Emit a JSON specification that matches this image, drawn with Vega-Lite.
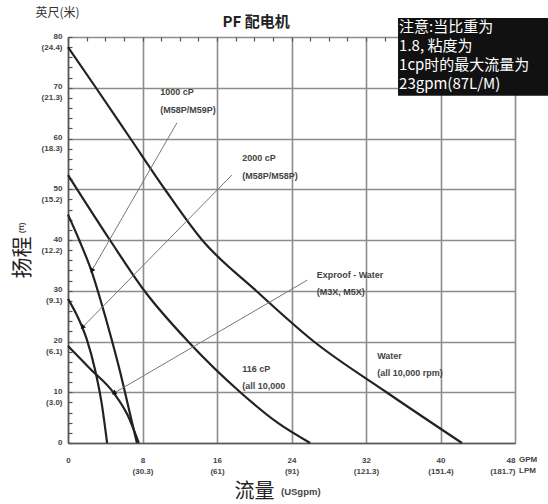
{
  "$schema": "https://vega.github.io/schema/vega-lite/v6.json",
  "width": 447,
  "height": 406,
  "autosize": "none",
  "padding": {"left": 68, "top": 37, "right": 33, "bottom": 61},
  "background": "white",
  "config": {"view": {"stroke": null}},
  "datasets": {
    "curves": [
      {"series": "Water", "gpm": 0, "ft": 78},
      {"series": "Water", "gpm": 3.0, "ft": 70},
      {"series": "Water", "gpm": 6.7, "ft": 60},
      {"series": "Water", "gpm": 10.4, "ft": 50},
      {"series": "Water", "gpm": 14.4, "ft": 40},
      {"series": "Water", "gpm": 20.2, "ft": 30},
      {"series": "Water", "gpm": 26.4, "ft": 20},
      {"series": "Water", "gpm": 34.2, "ft": 10},
      {"series": "Water", "gpm": 42.3, "ft": 0},
      {"series": "116 cP", "gpm": 0, "ft": 52.8},
      {"series": "116 cP", "gpm": 4.5, "ft": 40},
      {"series": "116 cP", "gpm": 8.2, "ft": 30},
      {"series": "116 cP", "gpm": 12.9, "ft": 20},
      {"series": "116 cP", "gpm": 18.5, "ft": 10},
      {"series": "116 cP", "gpm": 22.5, "ft": 4},
      {"series": "116 cP", "gpm": 26.0, "ft": 0},
      {"series": "1000 cP", "gpm": 0, "ft": 45},
      {"series": "1000 cP", "gpm": 1.2, "ft": 40},
      {"series": "1000 cP", "gpm": 2.5, "ft": 34},
      {"series": "1000 cP", "gpm": 3.6, "ft": 27.5},
      {"series": "1000 cP", "gpm": 4.6, "ft": 21},
      {"series": "1000 cP", "gpm": 5.6, "ft": 14},
      {"series": "1000 cP", "gpm": 6.5, "ft": 7},
      {"series": "1000 cP", "gpm": 7.4, "ft": 0},
      {"series": "2000 cP", "gpm": 0, "ft": 28.4},
      {"series": "2000 cP", "gpm": 1.0, "ft": 25},
      {"series": "2000 cP", "gpm": 2.0, "ft": 20.5},
      {"series": "2000 cP", "gpm": 2.9, "ft": 14.5},
      {"series": "2000 cP", "gpm": 3.6, "ft": 8},
      {"series": "2000 cP", "gpm": 4.2, "ft": 0},
      {"series": "Exproof", "gpm": 0, "ft": 19.1},
      {"series": "Exproof", "gpm": 2.4, "ft": 14.6},
      {"series": "Exproof", "gpm": 4.9, "ft": 9.9},
      {"series": "Exproof", "gpm": 6.4, "ft": 5.5},
      {"series": "Exproof", "gpm": 7.6, "ft": 0}
    ],
    "leaders": [
      {"leader": "1000 cP", "gpm": 11.7, "ft": 63.1},
      {"leader": "1000 cP", "gpm": 2.6, "ft": 34.1},
      {"leader": "2000 cP", "gpm": 17.6, "ft": 52.8},
      {"leader": "2000 cP", "gpm": 1.6, "ft": 22.9},
      {"leader": "Exproof", "gpm": 25.7, "ft": 32.1},
      {"leader": "Exproof", "gpm": 5.0, "ft": 9.9}
    ],
    "labels": [
      {"text": "1000 cP", "gpm": 9.9, "ft": 69.2},
      {"text": "(M58P/M59P)", "gpm": 9.9, "ft": 65.6},
      {"text": "2000 cP", "gpm": 18.7, "ft": 56.1},
      {"text": "(M58P/M58P)", "gpm": 18.7, "ft": 52.6},
      {"text": "Exproof - Water", "gpm": 26.7, "ft": 33.1},
      {"text": "(M3X, M5X)", "gpm": 26.7, "ft": 29.7},
      {"text": "Water", "gpm": 33.2, "ft": 17.1},
      {"text": "(all 10,000 rpm)", "gpm": 33.2, "ft": 13.8},
      {"text": "116 cP", "gpm": 18.7, "ft": 14.6},
      {"text": "(all 10,000", "gpm": 18.7, "ft": 11.2}
    ]
  },
  "resolve": {"axis": {"x": "independent", "y": "independent"}},
  "layer": [
    {
      "data": {"name": "curves"},
      "mark": {"type": "line", "interpolate": "monotone", "stroke": "#222", "strokeWidth": 2.2},
      "encoding": {
        "detail": {"field": "series"},
        "x": {"field": "gpm", "type": "quantitative", "scale": {"domain": [0, 48], "nice": false, "zero": false},
          "axis": {"values": [0, 8, 16, 24, 32, 40, 48], "grid": true, "gridColor": "#8c8c8c", "gridWidth": 1.6, "ticks": false,
            "domainColor": "#555", "domainWidth": 1.5, "labelFont": "Liberation Sans", "labelFontSize": 8, "labelFontWeight": "bold",
            "labelColor": "#444", "labelBaseline": "top", "labelPadding": 13, "labelLineHeight": 11, "labelFlush": false, "labelOverlap": false,
            "labelAlign": {"condition": {"test": "datum.value == 48", "value": "right"}, "value": "center"},
            "labelExpr": "datum.value == 0 ? '0' : [datum.label, datum.value == 8 ? '(30.3)' : datum.value == 16 ? '(61)' : datum.value == 24 ? '(91)' : datum.value == 32 ? '(121.3)' : datum.value == 40 ? '(151.4)' : '(181.7)']",
            "title": "流量", "titleFont": "Noto Sans CJK SC", "titleFontSize": 20, "titleFontWeight": "normal", "titleColor": "#222",
            "titleX": 186, "titleY": 54, "titleAlign": "center", "titleBaseline": "alphabetic"}},
        "y": {"field": "ft", "type": "quantitative", "scale": {"domain": [0, 80], "nice": false, "zero": false},
          "axis": {"values": [0, 10, 20, 30, 40, 50, 60, 70, 80], "grid": true, "gridColor": "#8c8c8c", "gridWidth": 1.6, "ticks": false,
            "domainColor": "#555", "domainWidth": 1.5, "labelFont": "Liberation Sans", "labelFontSize": 8, "labelFontWeight": "bold",
            "labelColor": "#444", "labelAlign": "right", "labelBaseline": "top", "labelOffset": -5, "labelPadding": 6, "labelLineHeight": 11,
            "labelFlush": false, "labelOverlap": false,
            "labelExpr": "datum.value == 0 ? '0' : [datum.label, datum.value == 10 ? '(3.0)' : datum.value == 20 ? '(6.1)' : datum.value == 30 ? '(9.1)' : datum.value == 40 ? '(12.2)' : datum.value == 50 ? '(15.2)' : datum.value == 60 ? '(18.3)' : datum.value == 70 ? '(21.3)' : '(24.4)']",
            "title": "英尺(米)", "titleFont": "Noto Sans CJK SC", "titleFontSize": 12, "titleFontWeight": "normal", "titleColor": "#333",
            "titleAngle": 0, "titleX": -33, "titleY": -30, "titleAlign": "left", "titleBaseline": "top"}}
      }
    },
    {
      "data": {"name": "curves"},
      "mark": {"type": "point", "opacity": 0},
      "encoding": {
        "x": {"field": "gpm", "type": "quantitative",
          "axis": {"values": [0, 2, 4, 6, 8, 10, 12, 14, 16, 18, 20, 22, 24, 26, 28, 30, 32, 34, 36, 38, 40, 42, 44, 46, 48],
            "grid": false, "labels": false, "domain": false, "ticks": true, "tickSize": -4, "tickColor": "#555", "tickWidth": 1.2, "title": null}},
        "y": {"field": "ft", "type": "quantitative",
          "axis": {"orient": "left", "values": [0, 2, 4, 6, 8, 10, 12, 14, 16, 18, 20, 22, 24, 26, 28, 30, 32, 34, 36, 38, 40, 42, 44, 46, 48, 50, 52, 54, 56, 58, 60, 62, 64, 66, 68, 70, 72, 74, 76, 78, 80],
            "grid": false, "labels": false, "domain": false, "ticks": true, "tickSize": -4, "tickColor": "#555", "tickWidth": 1.2,
            "title": "扬程", "titleFont": "Noto Sans CJK SC", "titleFontSize": 21, "titleFontWeight": "normal", "titleColor": "#222",
            "titleAngle": 270, "titleX": -46, "titleY": 220, "titleAlign": "center", "titleBaseline": "middle"}}
      }
    },
    {
      "data": {"name": "leaders"},
      "mark": {"type": "line", "stroke": "#777", "strokeWidth": 1},
      "encoding": {
        "detail": {"field": "leader"},
        "x": {"field": "gpm", "type": "quantitative", "axis": null},
        "y": {"field": "ft", "type": "quantitative", "axis": null}
      }
    },
    {
      "data": {"name": "leaders"},
      "transform": [{"filter": "datum.leader == '1000 cP' && datum.gpm < 5"}],
      "mark": {"type": "point", "shape": "triangle", "filled": true, "color": "#111", "size": 30, "angle": 210, "opacity": 1},
      "encoding": {
        "x": {"field": "gpm", "type": "quantitative", "axis": null},
        "y": {"field": "ft", "type": "quantitative", "axis": null}
      }
    },
    {
      "data": {"name": "leaders"},
      "transform": [{"filter": "datum.leader == '2000 cP' && datum.gpm < 5"}],
      "mark": {"type": "point", "shape": "triangle", "filled": true, "color": "#111", "size": 30, "angle": 224, "opacity": 1},
      "encoding": {
        "x": {"field": "gpm", "type": "quantitative", "axis": null},
        "y": {"field": "ft", "type": "quantitative", "axis": null}
      }
    },
    {
      "data": {"name": "leaders"},
      "transform": [{"filter": "datum.leader == 'Exproof' && datum.gpm < 10"}],
      "mark": {"type": "point", "shape": "triangle", "filled": true, "color": "#111", "size": 30, "angle": 239, "opacity": 1},
      "encoding": {
        "x": {"field": "gpm", "type": "quantitative", "axis": null},
        "y": {"field": "ft", "type": "quantitative", "axis": null}
      }
    },
    {
      "data": {"name": "labels"},
      "mark": {"type": "text", "align": "left", "baseline": "middle", "font": "Liberation Sans", "fontSize": 9, "fontWeight": "bold", "color": "#444"},
      "encoding": {
        "text": {"field": "text"},
        "x": {"field": "gpm", "type": "quantitative", "axis": null},
        "y": {"field": "ft", "type": "quantitative", "axis": null}
      }
    },
    {
      "data": {"values": [{}]},
      "mark": {"type": "text", "text": "PF 配电机", "align": "center", "baseline": "middle", "font": "Noto Sans CJK SC", "fontSize": 15, "fontWeight": "bold", "color": "#222"},
      "encoding": {
        "x": {"datum": 20.2, "type": "quantitative", "axis": null},
        "y": {"datum": 83.0, "type": "quantitative", "axis": null}
      }
    },
    {
      "data": {"values": [{}]},
      "mark": {"type": "rect", "color": "#111"},
      "encoding": {
        "x": {"datum": 35.44, "type": "quantitative", "axis": null},
        "x2": {"datum": 51.6},
        "y": {"datum": 83.74, "type": "quantitative", "axis": null},
        "y2": {"datum": 68.4}
      }
    },
    {
      "data": {"values": [{}]},
      "mark": {"type": "text", "text": ["注意:当比重为", "1.8, 粘度为", "1cp时的最大流量为", "23gpm(87L/M)"], "align": "left", "baseline": "top",
        "font": "Noto Sans CJK SC", "fontSize": 15, "lineHeight": 19, "color": "white"},
      "encoding": {
        "x": {"datum": 35.55, "type": "quantitative", "axis": null},
        "y": {"datum": 83.4, "type": "quantitative", "axis": null}
      }
    },
    {
      "data": {"values": [{}]},
      "mark": {"type": "text", "text": "(ft)", "align": "center", "baseline": "middle", "angle": 270, "font": "Liberation Sans", "fontSize": 8, "fontWeight": "bold", "color": "#444"},
      "encoding": {
        "x": {"datum": -4.94, "type": "quantitative", "axis": null},
        "y": {"datum": 42.4, "type": "quantitative", "axis": null}
      }
    },
    {
      "data": {"values": [{}]},
      "mark": {"type": "text", "text": "(USgpm)", "align": "left", "baseline": "middle", "font": "Liberation Sans", "fontSize": 9.5, "fontWeight": "bold", "color": "#444"},
      "encoding": {
        "x": {"datum": 22.87, "type": "quantitative", "axis": null},
        "y": {"datum": -9.6, "type": "quantitative", "axis": null}
      }
    },
    {
      "data": {"values": [{}]},
      "mark": {"type": "text", "text": ["GPM", "LPM"], "align": "left", "baseline": "top", "lineHeight": 11, "font": "Liberation Sans", "fontSize": 8, "fontWeight": "bold", "color": "#444"},
      "encoding": {
        "x": {"datum": 48.43, "type": "quantitative", "axis": null},
        "y": {"datum": -2.56, "type": "quantitative", "axis": null}
      }
    }
  ]
}
